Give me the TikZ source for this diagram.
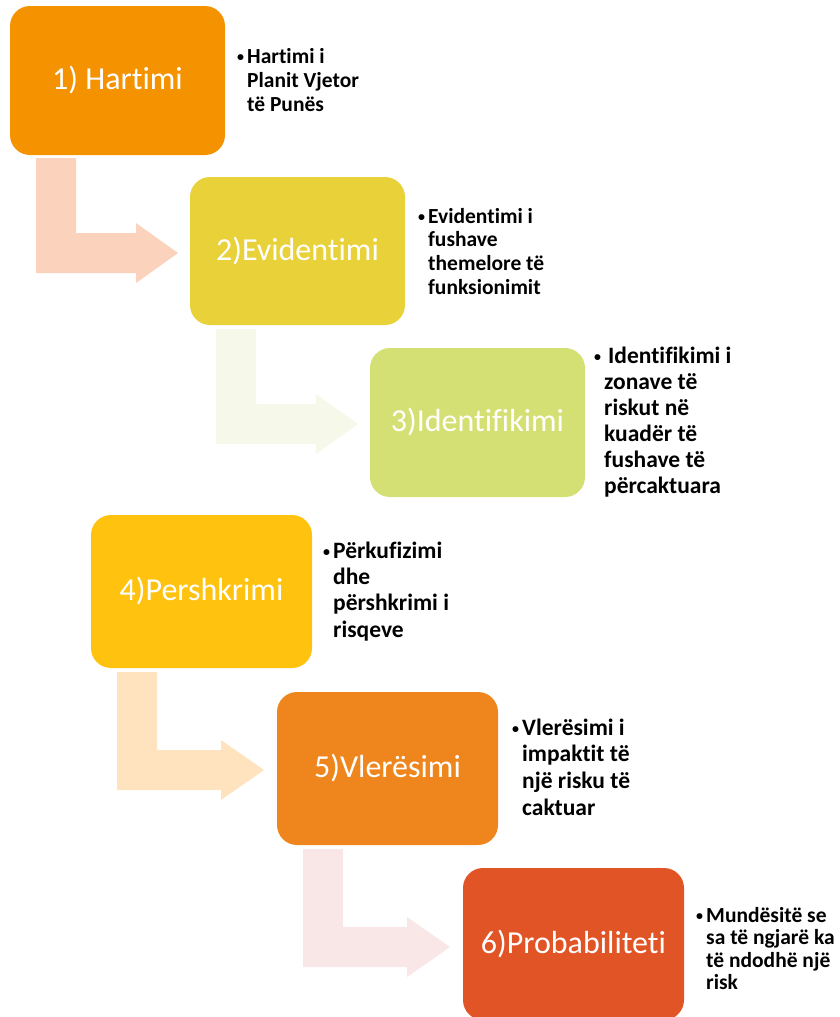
\documentclass[tikz,border=0pt]{standalone}
\usepackage{fontspec}
\setmainfont{Carlito}[RawFeature={-liga;-clig}]
\definecolor{cA}{HTML}{F59200}
\definecolor{cB}{HTML}{E9D13A}
\definecolor{cC}{HTML}{D4E073}
\definecolor{cD}{HTML}{FFC20E}
\definecolor{cE}{HTML}{EE861D}
\definecolor{cF}{HTML}{E05426}
\definecolor{aA}{HTML}{FBD3BD}
\definecolor{aB}{HTML}{F6F8E9}
\definecolor{aD}{HTML}{FFE3BE}
\definecolor{aE}{HTML}{F8E7E6}
\newcommand{\bentarr}[6]{% color, x0, y0, yb, xh, xt
  \fill[#1] (#2,#3) -- ({#2+40},#3) -- ({#2+40},#4) -- (#5,#4) -- (#5,{#4-10})
    -- (#6,{#4+20}) -- (#5,{#4+50}) -- (#5,{#4+40}) -- (#2,{#4+40}) -- cycle;}
\newcommand{\bul}{\makebox[10pt][l]{\raisebox{1.5pt}{\fontsize{14}{14}\selectfont\textbullet}}}
\newcommand{\ind}{\hspace*{10pt}}
\begin{document}
\begin{tikzpicture}[x=1pt,y=-1pt,
  stepbox/.style={rounded corners=20pt, inner sep=0pt, text=white,
    font=\fontsize{32}{38}\selectfont},
  note/.style={anchor=base west, inner sep=0pt, align=left}]
\useasboundingbox (0,0) rectangle (839,1017);
% arrows
\bentarr{aA}{36}{158}{233}{136}{178}
\bentarr{aB}{216}{329}{404}{316}{358}
\bentarr{aD}{117}{672}{750}{221}{264}
\bentarr{aE}{303}{849}{927}{407}{450}
% boxes
\node[stepbox, fill=cA, minimum width=215pt, minimum height=149pt] (b1) at (117.5,80.5) {1) Hartimi};
\node[stepbox, fill=cB, minimum width=215pt, minimum height=148pt] (b2) at (297.5,251) {2)Evidentimi};
\node[stepbox, fill=cC, minimum width=215pt, minimum height=149pt] (b3) at (477.5,422.5) {3)Identifikimi};
\node[stepbox, fill=cD, minimum width=221pt, minimum height=153pt] (b4) at (201.5,591.5) {4)Pershkrimi};
\node[stepbox, fill=cE, minimum width=221pt, minimum height=153pt] (b5) at (387.5,768.5) {5)Vlerësimi};
\node[stepbox, fill=cF, minimum width=221pt, minimum height=152pt] (b6) at (573.5,944) {6)Probabiliteti};
% notes
\node[note, font=\fontsize{21.5}{24}\selectfont\bfseries] (t1) at (237,63)
  {\begin{tabular}[t]{@{}l@{}}\bul Hartimi i\\ \ind Planit Vjetor\\ \ind të Punës\end{tabular}};
\node[note, font=\fontsize{21.5}{23.7}\selectfont\bfseries] (t2) at (418,223)
  {\begin{tabular}[t]{@{}l@{}}\bul Evidentimi i\\ \ind fushave\\ \ind themelore të\\ \ind funksionimit\end{tabular}};
\node[note, font=\fontsize{23.5}{26}\selectfont\bfseries] (t3) at (594,363)
  {\begin{tabular}[t]{@{}l@{}}\bul\hspace*{4pt}Identifikimi i\\ \ind zonave të\\ \ind riskut në\\ \ind kuadër të\\ \ind fushave të\\ \ind përcaktuara\end{tabular}};
\node[note, font=\fontsize{23.5}{26.4}\selectfont\bfseries] (t4) at (323,558)
  {\begin{tabular}[t]{@{}l@{}}\bul Përkufizimi\\ \ind dhe\\ \ind përshkrimi i\\ \ind risqeve\end{tabular}};
\node[note, font=\fontsize{23.5}{26.7}\selectfont\bfseries] (t5) at (512,735)
  {\begin{tabular}[t]{@{}l@{}}\bul Vlerësimi i\\ \ind impaktit të\\ \ind një risku të\\ \ind caktuar\end{tabular}};
\node[note, font=\fontsize{21.5}{22.5}\selectfont\bfseries] (t6) at (696,922)
  {\begin{tabular}[t]{@{}l@{}}\bul Mundësitë se\\ \ind sa të ngjarë ka\\ \ind të ndodhë një\\ \ind risk\end{tabular}};
\end{tikzpicture}
\end{document}
